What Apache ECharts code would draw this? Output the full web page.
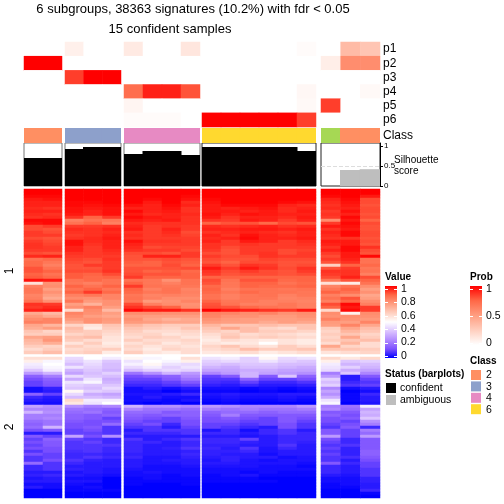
<!DOCTYPE html>
<html><head><meta charset="utf-8">
<script src="https://cdn.jsdelivr.net/npm/echarts@6/dist/echarts.min.js"></script>
<style>html,body{margin:0;background:#fff}#c{width:504px;height:504px}</style></head>
<body><div id="c"></div>
<script>
const titleOne = '6 subgroups, 38363 signatures (10.2%) with fdr < 0.05';
const titleTwo = '15 confident samples';
const probLabels = ['p1','p2','p3','p4','p5','p6'];
const classColors = {2:'#FF8F62',3:'#8DA0CB',4:'#E78AC3',5:'#A6D854',6:'#FFD92F'};
const valueTicks = ['1','0.8','0.6','0.4','0.2','0'];
const probTicks = ['1','0.5','0'];
const classLegend = ['2','3','4','6'];
const statusLegend = ['confident','ambiguous'];
const valueRamp = ['#0000FF','#7D51FF','#B28BFF','#DCC4FF','#FFFFFF','#FFCFBF','#FF9E81','#FF6847','#FF0000'];
const probRamp = ['#FFFFFF','#FFCFBF','#FF9E81','#FF6847','#FF0000'];

// sample columns per subgroup block
const classA = [2,2], classB = [3,3,3], classC = [4,4,4,4], classD = [6,6,6,6,6,6], classE = [5,2,2];
const silA = [0.70,0.70], silB = [0.925,0.975,0.975], silC = [0.80,0.875,0.875,0.775], silD = [0.975,0.975,0.975,0.975,0.975,0.875], silE = [0,0.40,0.42];
const statusA = [1,1], statusB = [1,1,1], statusC = [1,1,1,1], statusD = [1,1,1,1,1,1], statusE = [1,0,0];
// class membership probabilities: rows p1..p6
const probA = [[0,0],[100,100],[0,0],[0,0],[0,0],[0,0]];
const probB = [[8,0,0],[0,0,0],[85,100,100],[0,0,0],[0,0,0],[0,0,0]];
const probC = [[11,0,0,13],[0,0,0,0],[0,0,0,0],[72,92,92,80],[5,0,0,0],[2,2,2,0]];
const probD = [[0,0,0,0,0,2],[0,0,0,0,0,0],[0,0,0,0,0,0],[0,0,0,0,0,4],[0,0,0,0,0,3],[100,100,100,100,100,85]];
const probE = [[0,35,30],[9,58,58],[0,0,0],[0,0,3],[85,0,0],[0,0,0]];

// value heatmap (percent), upper row slice
const upA = [[100,100],[100,100],[99,99],[97,98],[96,96],[96,96],[95,94],[96,96],[95,94],[94,95],[99,99],[98,99],[91,93],[91,90],[93,91],[93,93],[91,90],[93,91],[94,92],[94,93],[93,93],[91,90],[95,96],[85,87],[87,84],[87,82],[90,85],[90,88],[88,85],[89,87],[98,97],[58,78],[82,79],[84,75],[84,78],[81,75],[82,72],[85,78],[94,93],[93,95],[96,97],[72,68],[76,72],[79,81],[82,81],[73,69],[71,75],[65,61],[63,63],[73,75],[69,77],[67,71],[63,61],[59,63],[63,67]];
const upB = [[100,100,100],[100,100,100],[100,100,100],[100,100,100],[99,99,100],[99,98,99],[98,97,98],[98,96,98],[97,96,98],[94,88,93],[82,85,84],[85,88,82],[93,93,94],[95,94,96],[94,94,95],[93,94,96],[94,95,97],[98,95,96],[98,94,96],[96,93,96],[96,93,95],[94,93,94],[93,93,93],[92,91,94],[91,90,93],[90,93,93],[90,90,93],[91,91,94],[89,88,91],[89,87,88],[85,87,85],[84,82,85],[88,85,88],[85,88,84],[88,93,87],[82,84,81],[79,78,81],[84,76,78],[75,70,78],[78,82,75],[60,79,68],[81,78,75],[79,75,73],[76,78,76],[72,78,75],[61,57,65],[67,55,63],[65,63,61],[61,63,59],[65,67,57],[63,59,57],[57,63,55],[63,59,57],[59,61,63],[61,63,55]];
const upC = [[100,100,100,100],[100,100,100,100],[100,100,100,99],[100,99,100,98],[100,97,100,95],[98,96,99,96],[96,96,98,94],[99,96,97,94],[97,95,96,95],[99,97,96,94],[97,96,97,94],[95,94,94,94],[96,93,94,93],[97,93,96,93],[94,93,95,91],[95,93,94,92],[94,93,93,93],[98,94,94,93],[96,93,93,93],[95,91,92,92],[94,93,93,91],[91,91,90,93],[90,96,96,93],[90,90,91,90],[89,88,90,89],[88,88,91,88],[90,90,90,91],[90,88,89,87],[91,90,90,88],[93,88,88,88],[85,84,78,85],[88,84,82,85],[93,85,84,84],[88,82,85,81],[87,84,85,82],[84,81,82,81],[85,82,79,79],[84,76,78,81],[91,82,79,78],[94,91,88,79],[99,97,97,94],[79,79,78,78],[76,75,75,75],[78,73,70,72],[76,75,73,73],[69,65,63,63],[65,63,61,65],[63,59,59,61],[61,61,57,59],[59,63,61,57],[63,59,59,61],[58,61,56,59],[61,57,59,57],[59,55,61,59],[63,57,55,59]];
const upD = [[100,100,100,100,100,100],[100,100,100,100,100,100],[100,100,100,100,100,100],[99,100,100,100,100,100],[98,100,100,100,99,98],[97,99,99,99,96,95],[97,96,97,98,95,96],[97,97,96,97,95,97],[98,96,98,97,96,96],[97,94,96,96,95,97],[94,93,97,96,93,96],[88,90,90,87,91,90],[95,94,95,96,94,95],[96,96,97,97,96,97],[94,95,96,95,94,96],[96,94,98,96,95,96],[95,96,99,96,96,97],[96,93,97,96,93,95],[94,93,94,93,93,94],[94,91,93,93,93,93],[93,90,93,93,91,92],[91,90,93,94,91,93],[93,91,91,94,93,93],[91,90,90,92,91,91],[90,88,91,91,90,90],[93,90,94,93,90,91],[97,93,97,94,91,94],[94,91,93,91,90,93],[93,90,91,91,90,91],[88,88,88,88,88,88],[91,85,90,90,87,88],[90,84,88,88,85,87],[87,84,88,87,87,88],[88,82,85,85,84,85],[87,84,87,85,85,84],[85,82,84,85,82,84],[85,82,84,84,81,82],[88,84,84,82,82,81],[90,85,82,82,84,82],[91,90,87,85,84,82],[100,97,96,94,93,97],[82,81,79,81,78,79],[81,78,78,76,76,78],[78,76,75,75,75,76],[76,75,75,72,75,73],[69,65,65,67,65,65],[65,73,67,61,59,65],[63,61,67,63,63,61],[59,63,59,61,59,57],[57,65,61,63,61,59],[55,59,57,55,57,55],[57,55,56,50,57,55],[61,65,59,57,63,59],[59,61,67,63,63,65],[56,57,59,55,57,59]];
const upE = [[100,100,100],[100,100,100],[99,100,97],[96,99,91],[95,98,91],[94,97,90],[95,96,91],[93,98,91],[94,96,90],[93,99,91],[79,97,88],[93,99,91],[97,98,90],[94,97,90],[96,99,91],[95,99,91],[94,94,90],[97,97,91],[96,97,90],[94,99,94],[96,99,91],[93,97,90],[91,97,99],[93,96,85],[90,94,85],[62,88,87],[90,93,84],[94,94,85],[93,94,82],[91,96,91],[84,90,88],[58,55,85],[81,85,79],[84,88,75],[88,85,78],[82,79,73],[85,90,75],[82,88,79],[91,99,82],[88,97,93],[60,99,93],[79,54,79],[78,79,78],[82,78,76],[76,75,81],[75,81,73],[63,73,67],[61,69,65],[63,65,61],[61,73,63],[63,65,67],[59,69,59],[73,61,59],[65,65,63],[57,59,61]];
// value heatmap (percent), lower row slice
const lowA = [[58,58],[54,48],[46,50],[44,48],[38,46],[28,34],[16,22],[12,16],[10,14],[10,13],[2,5],[2,4],[16,10],[6,4],[4,3],[2,2],[30,26],[24,24],[34,26],[22,22],[22,24],[18,20],[16,20],[18,34],[12,14],[4,4],[14,10],[10,16],[12,14],[10,14],[12,12],[8,12],[12,10],[8,10],[8,12],[18,8],[6,8],[6,8],[4,4],[5,6],[3,4],[4,4],[2,2],[4,2],[0,0],[0,0],[0,0]];
const lowB = [[42,50,46],[40,44,38],[36,42,36],[44,40,36],[34,38,34],[30,36,40],[42,38,36],[32,44,32],[44,48,34],[40,38,38],[38,36,42],[52,40,38],[42,32,30],[36,36,34],[60,46,46],[56,44,50],[26,22,24],[20,18,16],[18,20,14],[16,14,16],[16,14,10],[14,12,12],[12,12,18],[12,14,8],[10,12,8],[10,10,8],[30,12,26],[10,8,6],[8,10,6],[8,8,8],[8,8,6],[7,8,6],[6,6,5],[6,8,6],[8,5,4],[6,4,4],[4,4,4],[5,4,3],[3,4,3],[4,3,2],[2,2,0],[3,3,0],[2,1,0],[1,2,0],[1,1,1],[0,0,0],[0,0,0]];
const lowC = [[52,48,50,58],[44,50,48,54],[47,52,44,42],[42,46,40,44],[36,40,42,40],[20,26,34,28],[12,14,16,24],[10,10,14,20],[8,8,10,14],[6,6,8,10],[2,4,2,4],[2,2,0,2],[3,3,4,6],[2,4,2,2],[2,2,1,3],[1,0,1,0],[34,26,26,24],[24,20,20,18],[18,18,14,16],[16,14,16,16],[14,12,10,14],[12,10,10,12],[10,12,6,12],[8,8,4,10],[4,8,8,8],[6,6,6,8],[4,4,4,4],[8,4,6,8],[6,6,4,6],[6,4,4,6],[6,4,5,8],[6,4,4,5],[5,4,4,6],[6,3,3,5],[4,3,4,4],[4,3,3,4],[4,2,2,3],[3,2,2,2],[2,3,2,2],[2,2,1,2],[1,2,1,1],[1,1,1,1],[1,0,0,1],[0,0,0,0],[0,0,0,0],[0,0,0,0],[0,0,0,0]];
const lowD = [[44,46,40,52,42,44],[40,42,40,44,40,38],[38,36,38,38,36,36],[34,32,36,36,34,32],[30,30,32,32,30,30],[24,28,34,30,28,26],[10,14,34,14,38,16],[8,8,16,10,10,12],[7,6,10,6,6,8],[5,4,6,4,4,5],[2,2,1,2,1,2],[1,1,0,1,0,1],[3,4,3,3,4,4],[2,3,2,2,3,2],[1,2,1,1,2,1],[0,1,0,0,0,0],[28,26,24,24,24,28],[22,20,22,20,20,22],[16,18,18,16,18,18],[14,22,14,14,14,14],[12,14,12,10,14,12],[12,12,10,10,14,10],[10,10,8,10,12,8],[10,8,6,4,12,8],[3,6,2,6,8,4],[6,6,4,6,8,6],[4,4,3,4,6,6],[6,6,10,4,6,6],[6,6,5,4,6,5],[5,5,4,4,8,4],[6,4,8,3,6,4],[5,5,6,3,4,4],[5,4,4,2,4,4],[4,5,4,4,2,3],[3,5,3,2,3,3],[4,4,3,3,3,2],[3,3,3,2,2,1],[2,2,2,2,2,2],[2,2,1,2,1,1],[1,2,3,1,1,1],[1,1,1,0,0,0],[1,1,1,1,0,0],[0,0,0,0,0,0],[0,0,0,0,0,0],[0,0,0,0,0,0],[0,0,0,0,0,0],[0,0,0,0,0,0]];
const lowE = [[60,56,60],[54,38,40],[46,34,36],[44,40,34],[42,32,30],[22,38,24],[28,4,14],[40,4,10],[36,6,8],[40,8,10],[24,2,4],[30,0,2],[26,1,6],[32,1,4],[44,1,4],[48,0,3],[22,20,46],[24,18,30],[14,14,34],[16,12,32],[12,14,38],[12,10,26],[10,12,22],[8,14,6],[14,10,22],[14,10,18],[28,10,28],[12,6,14],[10,6,14],[8,8,14],[10,5,14],[8,5,16],[10,5,16],[8,7,14],[8,4,12],[14,6,10],[6,4,10],[6,4,8],[6,4,8],[4,3,8],[2,2,5],[2,2,5],[1,2,4],[1,1,4],[0,0,6],[0,0,1],[0,0,0]];

const blocks = [
  {l:24,w:38,cls:classA,sil:silA,st:statusA,prob:probA,up:upA,low:lowA},
  {l:65,w:56,cls:classB,sil:silB,st:statusB,prob:probB,up:upB,low:lowB},
  {l:124,w:76,cls:classC,sil:silC,st:statusC,prob:probC,up:upC,low:lowC},
  {l:202,w:114,cls:classD,sil:silD,st:statusD,prob:probD,up:upD,low:lowD},
  {l:321,w:59,cls:classE,sil:silE,st:statusE,prob:probE,up:upE,low:lowE}
];
const FONT = '"Liberation Sans", Arial, Helvetica, sans-serif';
const grids=[],xAxes=[],yAxes=[],series=[],probIdx=[],valIdx=[];
function addGrid(b,top,height,yAxis,opts){
  const i=grids.length;
  grids.push(Object.assign({left:b.l,top:top,width:b.w,height:height,containLabel:false},opts||{}));
  xAxes.push({type:'category',gridIndex:i,show:false,boundaryGap:true,data:b.cls.map((c,k)=>k)});
  yAxes.push(Object.assign({gridIndex:i},yAxis));
  return i;
}
function heat(i,rows,list){
  const d=[];rows.forEach((r,y)=>r.forEach((v,x)=>d.push([x,y,v/100])));
  list.push(series.length);
  series.push({type:'heatmap',xAxisIndex:i,yAxisIndex:i,data:d,progressive:0,emphasis:{disabled:true},itemStyle:{borderWidth:0}});
}
function rowAxis(n,labels,show){
  return {type:'category',inverse:true,data:labels||Array.from({length:n},(_,k)=>k),show:!!show,
    axisLine:{show:false},axisTick:{show:false},splitLine:{show:false},
    axisLabel:{show:!!show,fontFamily:FONT,fontSize:12,color:'#000',margin:3,interval:0},position:'right'};
}
blocks.forEach((b,bi)=>{
  const last=bi===blocks.length-1;
  const bw=Math.ceil(b.w/b.cls.length)+1;
  // probability rows
  heat(addGrid(b,42,85,rowAxis(6,probLabels,last)),b.prob,probIdx);
  // class strip
  let i=addGrid(b,128,15,{type:'value',min:0,max:1,show:false});
  series.push({type:'bar',xAxisIndex:i,yAxisIndex:i,barWidth:bw,clip:true,silent:true,
    data:b.cls.map(c=>({value:1,itemStyle:{color:classColors[c]}}))});
  if(last){
    i=addGrid(b,128,15,rowAxis(1,['Class'],true));
    series.push({type:'bar',xAxisIndex:i,yAxisIndex:i,data:[],silent:true});
  }
  // silhouette bars
  i=addGrid(b,143,43,{type:'value',min:0,max:1.075,position:'right',show:last,
    axisLine:{show:last,lineStyle:{color:'#000'}},splitLine:{show:false},
    axisTick:{show:last,length:3,customValues:[0,0.5,1],lineStyle:{color:'#000'}},
    axisLabel:{show:last,customValues:[0,0.5,1],formatter:v=>String(v),fontFamily:FONT,fontSize:8,color:'#000',margin:4}},
    {show:true,borderColor:bi<3?'#777':'#222',borderWidth:1,backgroundColor:'#fff'});
  const ser={type:'bar',xAxisIndex:i,yAxisIndex:i,barWidth:bw,clip:true,silent:true,
    data:b.sil.map((v,k)=>({value:v,itemStyle:{color:b.st[k]?'#000':'#BEBEBE'}}))};
  if(last) ser.markLine={silent:true,symbol:'none',label:{show:false},lineStyle:{color:'#DDD',type:'dashed',width:1},data:[{yAxis:0.5}]};
  series.push(ser);
  // value heatmap slices
  heat(addGrid(b,189,165,rowAxis(b.up.length)),b.up,valIdx);
  heat(addGrid(b,357,141,rowAxis(b.low.length)),b.low,valIdx);
});
function rampStops(r){return r.slice().reverse().map((c,k)=>({offset:k/(r.length-1),color:c}));}
function txt(t,x,y,o){return {type:'text',x:x,y:y,z:20,silent:true,rotation:(o&&o.rot)||0,
  style:{text:t,fill:(o&&o.fill)||'#000',font:((o&&o.bold)?'bold ':'')+((o&&o.size)||10)+'px '+FONT,align:(o&&o.align)||'left',verticalAlign:'middle'}};}
function rect(x,y,w,h,fill){return {type:'rect',z:19,silent:true,shape:{x:x,y:y,width:w,height:h},style:{fill:fill}};}
function colorBar(x,top,h,ramp,labels){
  const out=[rect(x,top,12,h,new echarts.graphic.LinearGradient(0,0,0,1,rampStops(ramp)))];
  labels.forEach((t,k)=>{
    const y=top+3+(h-5)*k/(labels.length-1);
    out.push(rect(x,Math.round(y),3,1,'#fff'),rect(x+9,Math.round(y),3,1,'#fff'));
    out.push(txt(t,x+16,y,{size:10.5}));
  });
  return out;
}
const gfx=[
  txt('1',10,271,{size:12,rot:Math.PI/2,align:'center'}),
  txt('2',10,427,{size:12,rot:Math.PI/2,align:'center'}),
  txt('Silhouette',394,160),txt('score',394,171),
  txt('Value',385,277,{bold:true}),
  ...colorBar(385,286,72,valueRamp,valueTicks),
  txt('Prob',470,277,{bold:true}),
  ...colorBar(470,286,59,probRamp,probTicks),
  txt('Status (barplots)',385,374,{bold:true}),
  rect(386,383,10,10,'#000'),txt(statusLegend[0],400,388.5,{size:10.5}),
  rect(386,395,10,10,'#BEBEBE'),txt(statusLegend[1],400,400.5,{size:10.5}),
  txt('Class',470,361,{bold:true})
];
[2,3,4,6].forEach((c,k)=>{
  gfx.push(rect(471,370+k*11.4,10,10,classColors[c]),txt(classLegend[k],486,375.5+k*11.4,{size:10.5}));
});
const chart=echarts.init(document.getElementById('c'),null,{renderer:'canvas'});
chart.setOption({
  animation:false,backgroundColor:'#fff',
  title:[
    {text:titleOne,left:193,top:3,padding:0,textAlign:'center',textStyle:{fontFamily:FONT,fontSize:13,fontWeight:'normal',color:'#000'}},
    {text:titleTwo,left:170,top:23,padding:0,textAlign:'center',textStyle:{fontFamily:FONT,fontSize:13,fontWeight:'normal',color:'#000'}}
  ],
  grid:grids,xAxis:xAxes,yAxis:yAxes,series:series,
  visualMap:[
    {show:false,type:'continuous',min:0,max:1,dimension:2,seriesIndex:valIdx,inRange:{color:valueRamp}},
    {show:false,type:'continuous',min:0,max:1,dimension:2,seriesIndex:probIdx,inRange:{color:probRamp}}
  ],
  graphic:{elements:gfx}
});
</script></body></html>
